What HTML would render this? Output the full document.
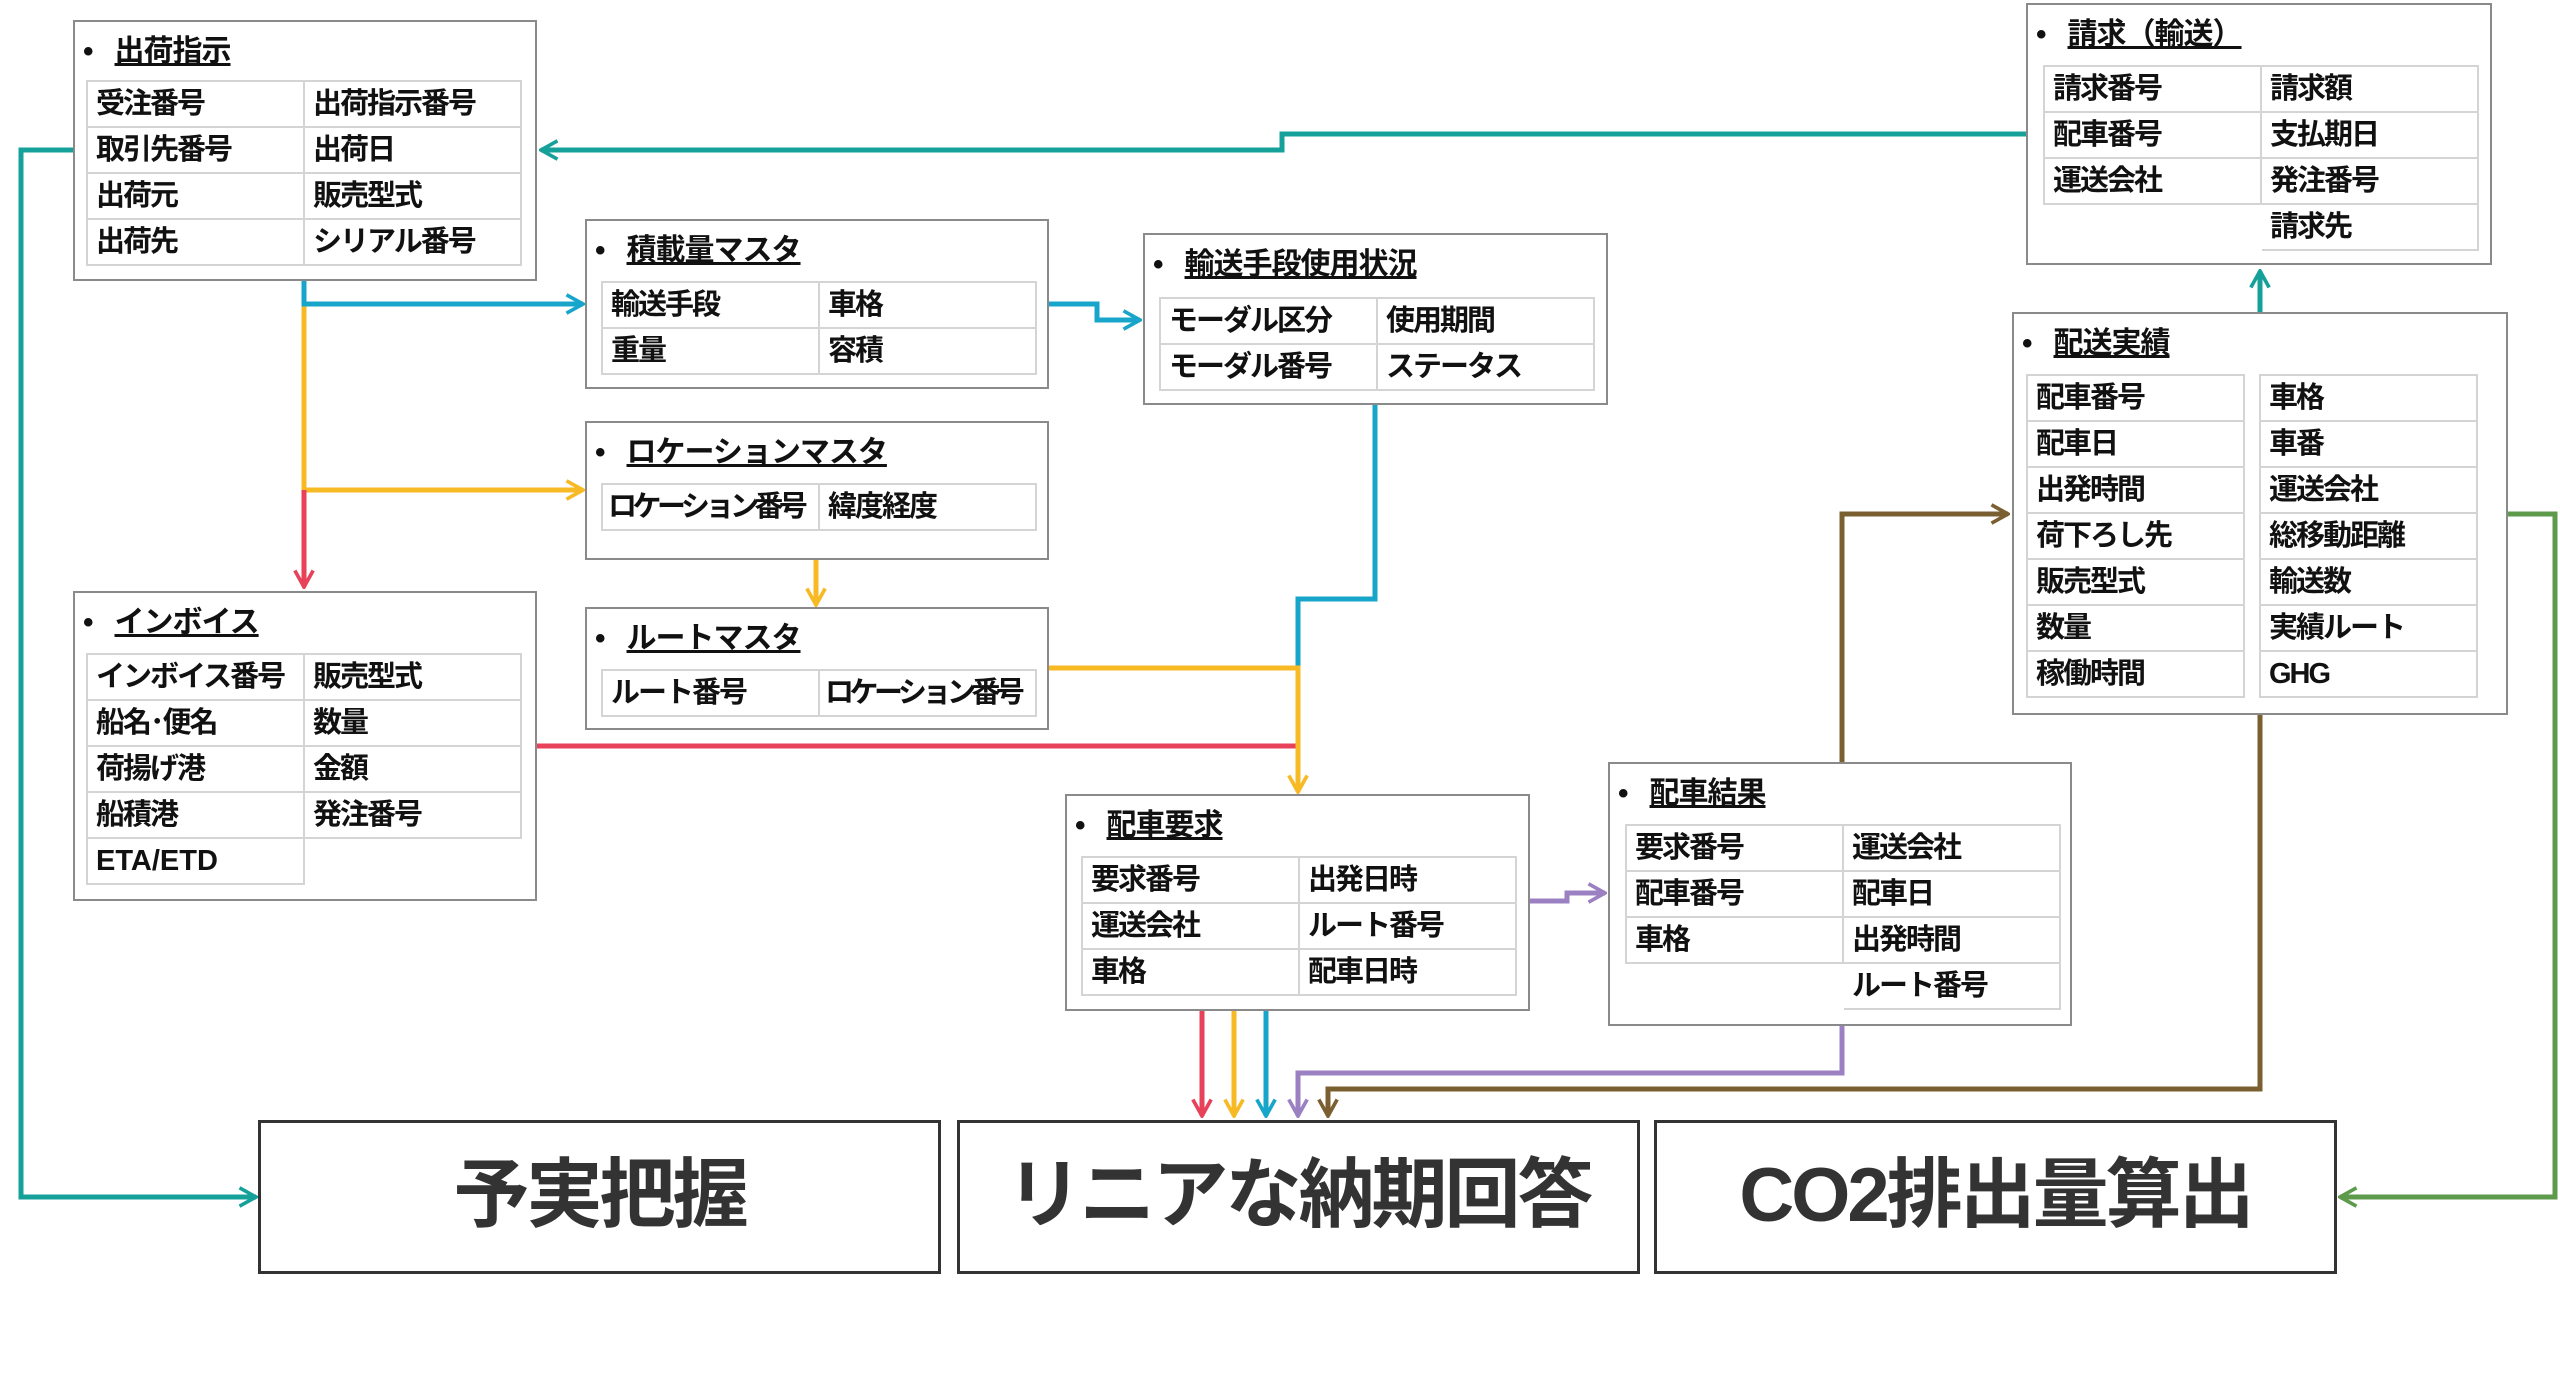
<!DOCTYPE html>
<html><head><meta charset="utf-8"><style>
body{margin:0;width:2560px;height:1381px;background:#fff;position:relative;overflow:hidden;font-family:"Liberation Sans","Noto Sans CJK JP",sans-serif;color:#111}
.b{position:absolute;border:2px solid #8a8a8a;box-sizing:border-box;background:#fff}
.h{position:absolute;left:8px;top:4px;font-size:30px;font-weight:bold;white-space:nowrap;letter-spacing:-1px}
.h span{text-decoration:underline;margin-left:22px}
table{position:absolute;border-collapse:collapse;table-layout:fixed}
td{border:2px solid #d4d4d4;height:46px;width:217px;max-width:217px;overflow:hidden;padding:0 0 0 8px;box-sizing:border-box;font-size:29px;font-weight:bold;white-space:nowrap;line-height:44px;letter-spacing:-2px}
td.n{letter-spacing:-4.5px;padding-left:5px}
td.e{border-color:transparent}
.big{position:absolute;top:1120px;width:683px;height:154px;border:3px solid #333;box-sizing:border-box;font-size:76px;font-weight:bold;color:#333;text-align:center;line-height:146px;background:#fff;letter-spacing:-3px}
svg{position:absolute;left:0;top:0}
</style></head><body>
<svg width="2560" height="1381">
<defs>
<marker id="m" viewBox="0 0 12 12" refX="11" refY="6" markerWidth="22" markerHeight="22" markerUnits="userSpaceOnUse" orient="auto"><path d="M2,1 L11,6 L2,11" fill="none" stroke="context-stroke" stroke-width="2"/></marker>
</defs>
<g fill="none" stroke-width="5">
<polyline stroke="#16a09a" points="2026,134 1282,134 1282,150 541,150" marker-end="url(#m)"/>
<polyline stroke="#16a09a" points="73,150 21,150 21,1197 256,1197" marker-end="url(#m)"/>
<polyline stroke="#16a09a" points="2260,312 2260,271" marker-end="url(#m)"/>
<polyline stroke="#f7b924" points="304,304 304,490 583,490" marker-end="url(#m)"/>
<polyline stroke="#e8415a" points="304,490 304,587" marker-end="url(#m)"/>
<polyline stroke="#17a6c9" points="304,281 304,304 583,304" marker-end="url(#m)"/>
<polyline stroke="#17a6c9" points="1049,304 1097,304 1097,320 1140,320" marker-end="url(#m)"/>
<polyline stroke="#f7b924" points="816,560 816,605" marker-end="url(#m)"/>
<polyline stroke="#17a6c9" points="1375,405 1375,599 1298,599 1298,668"/>
<polyline stroke="#e8415a" points="537,746 1298,746"/>
<polyline stroke="#f7b924" points="1049,668 1298,668 1298,792" marker-end="url(#m)"/>
<polyline stroke="#9b80c2" points="1530,901 1567,901 1567,893 1605,893" marker-end="url(#m)"/>
<polyline stroke="#7a6030" points="1842,762 1842,514 2008,514" marker-end="url(#m)"/>
<polyline stroke="#7a6030" points="2260,714 2260,1089 1328,1089 1328,1116" marker-end="url(#m)"/>
<polyline stroke="#9b80c2" points="1842,1025 1842,1073 1298,1073 1298,1116" marker-end="url(#m)"/>
<polyline stroke="#5e9a4c" points="2507,514 2555,514 2555,1197 2340,1197" marker-end="url(#m)"/>
<polyline stroke="#e8415a" points="1202,1010 1202,1116" marker-end="url(#m)"/>
<polyline stroke="#f7b924" points="1234,1010 1234,1116" marker-end="url(#m)"/>
<polyline stroke="#17a6c9" points="1266,1010 1266,1116" marker-end="url(#m)"/>
</g></svg>

<div class="b" style="left:73px;top:20px;width:464px;height:261px"><div class="h">•<span>出荷指示</span></div></div>
<table style="left:86px;top:80px"><tr><td>受注番号</td><td>出荷指示番号</td></tr><tr><td>取引先番号</td><td>出荷日</td></tr><tr><td>出荷元</td><td>販売型式</td></tr><tr><td>出荷先</td><td>シリアル番号</td></tr></table>

<div class="b" style="left:585px;top:219px;width:464px;height:170px"><div class="h">•<span>積載量マスタ</span></div></div>
<table style="left:601px;top:281px"><tr><td>輸送手段</td><td>車格</td></tr><tr><td>重量</td><td>容積</td></tr></table>

<div class="b" style="left:585px;top:421px;width:464px;height:139px"><div class="h">•<span>ロケーションマスタ</span></div></div>
<table style="left:601px;top:483px"><tr><td class="n">ロケーション番号</td><td>緯度経度</td></tr></table>

<div class="b" style="left:585px;top:607px;width:464px;height:123px"><div class="h">•<span>ルートマスタ</span></div></div>
<table style="left:601px;top:669px"><tr><td>ルート番号</td><td class="n">ロケーション番号</td></tr></table>

<div class="b" style="left:1143px;top:233px;width:465px;height:172px"><div class="h">•<span>輸送手段使用状況</span></div></div>
<table style="left:1159px;top:297px"><tr><td>モーダル区分</td><td>使用期間</td></tr><tr><td>モーダル番号</td><td>ステータス</td></tr></table>

<div class="b" style="left:73px;top:591px;width:464px;height:310px"><div class="h">•<span>インボイス</span></div></div>
<table style="left:86px;top:653px"><tr><td>インボイス番号</td><td>販売型式</td></tr><tr><td>船名･便名</td><td>数量</td></tr><tr><td>荷揚げ港</td><td>金額</td></tr><tr><td>船積港</td><td>発注番号</td></tr><tr><td style="letter-spacing:0">ETA/ETD</td><td class="e"></td></tr></table>

<div class="b" style="left:1065px;top:794px;width:465px;height:217px"><div class="h">•<span>配車要求</span></div></div>
<table style="left:1081px;top:856px"><tr><td>要求番号</td><td>出発日時</td></tr><tr><td>運送会社</td><td>ルート番号</td></tr><tr><td>車格</td><td>配車日時</td></tr></table>

<div class="b" style="left:1608px;top:762px;width:464px;height:264px"><div class="h">•<span>配車結果</span></div></div>
<table style="left:1625px;top:824px"><tr><td>要求番号</td><td>運送会社</td></tr><tr><td>配車番号</td><td>配車日</td></tr><tr><td>車格</td><td>出発時間</td></tr><tr><td class="e"></td><td>ルート番号</td></tr></table>

<div class="b" style="left:2026px;top:3px;width:466px;height:262px"><div class="h">•<span>請求（輸送）</span></div></div>
<table style="left:2043px;top:65px"><tr><td>請求番号</td><td>請求額</td></tr><tr><td>配車番号</td><td>支払期日</td></tr><tr><td>運送会社</td><td>発注番号</td></tr><tr><td class="e"></td><td>請求先</td></tr></table>

<div class="b" style="left:2012px;top:312px;width:496px;height:403px"><div class="h">•<span>配送実績</span></div></div>
<table style="left:2026px;top:374px"><tr><td>配車番号</td></tr><tr><td>配車日</td></tr><tr><td>出発時間</td></tr><tr><td>荷下ろし先</td></tr><tr><td>販売型式</td></tr><tr><td>数量</td></tr><tr><td>稼働時間</td></tr></table>
<table style="left:2259px;top:374px"><tr><td>車格</td></tr><tr><td>車番</td></tr><tr><td>運送会社</td></tr><tr><td>総移動距離</td></tr><tr><td>輸送数</td></tr><tr><td>実績ルート</td></tr><tr><td>GHG</td></tr></table>

<div class="big" style="left:258px">予実把握</div>
<div class="big" style="left:957px">リニアな納期回答</div>
<div class="big" style="left:1654px">CO2排出量算出</div>
</body></html>
